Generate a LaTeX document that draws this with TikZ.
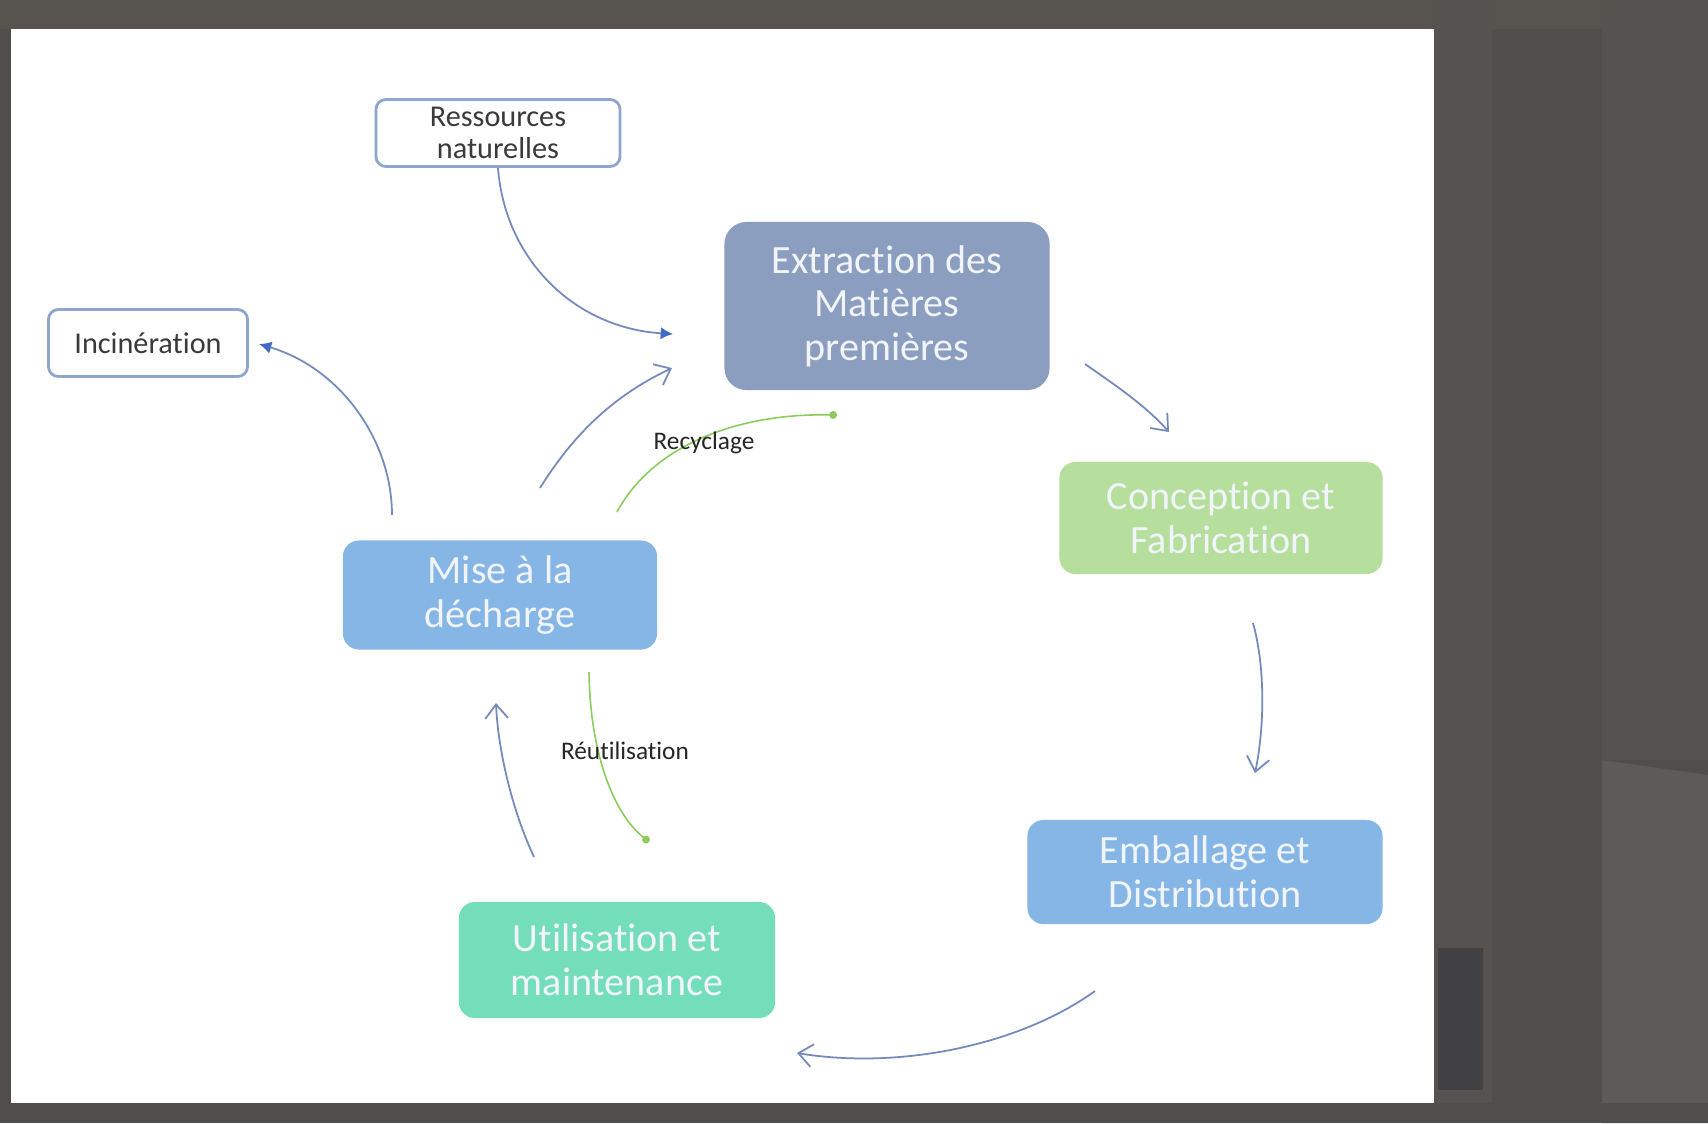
\documentclass[tikz,border=0pt]{standalone}
\usepackage{fontspec}
\setmainfont{Carlito}[Ligatures=NoCommon]
\usetikzlibrary{arrows.meta}
\definecolor{bgc}{HTML}{4F4E4D}
\definecolor{bgtop}{HTML}{57534F}
\definecolor{bgpanel}{HTML}{56524F}
\definecolor{bgpanel2}{HTML}{5D5B59}
\definecolor{bgdark}{HTML}{414143}
\definecolor{extrc}{HTML}{8B9EC0}
\definecolor{concc}{HTML}{B6DE9C}
\definecolor{bluec}{HTML}{86B6E6}
\definecolor{utilc}{HTML}{74DDBA}
\definecolor{boxtext}{HTML}{F1F4F8}
\definecolor{wborder}{HTML}{8FA6CC}
\definecolor{darktext}{HTML}{3A3A3A}
\definecolor{flowc}{HTML}{7489BC}
\definecolor{headc}{HTML}{3F6BC4}
\definecolor{greenc}{HTML}{8CCB5E}
\begin{document}
\begin{tikzpicture}[x=0.01cm,y=-0.01cm,
  box/.style={rounded corners=0.16cm, inner sep=0pt, align=center, text=boxtext,
    font=\fontsize{11.4}{12.4}\selectfont},
  wbox/.style={draw=wborder, line width=0.8pt, fill=white, rounded corners=0.1cm,
    inner sep=0pt, align=center, text=darktext, font=\fontsize{8.6}{9.3}\selectfont},
  flowo/.style={draw=flowc, line width=0.5pt, -{Straight Barb[length=4pt,width=6.5pt]}},
  flowf/.style={draw=flowc, line width=0.5pt, -{Latex[length=3.5pt,width=3.5pt,color=headc]}},
  greenflow/.style={draw=greenc, line width=0.45pt, -{Circle[length=2.2pt,color=greenc]}},
  lbl/.style={text=black!85, inner sep=0pt, font=\fontsize{7.2}{8}\selectfont}]
\useasboundingbox (0,0) rectangle (1708,1123);
% photographed background
\fill[bgc] (0,0) rectangle (1708,1123);
\fill[bgtop] (0,0) rectangle (1708,29);
\fill[bgpanel] (1434,0) rectangle (1492,1123);
\fill[bgpanel] (1602,0) rectangle (1708,760);
\fill[bgpanel2] (1602,760) -- (1708,775) -- (1708,1123) -- (1602,1123) -- cycle;
\fill[bgdark] (1438,948) rectangle (1483,1090);
\fill[bgc] (1434,1103) rectangle (1708,1123);
% slide
\fill[white] (11,29) rectangle (1434,1103);

% nodes
\node[wbox, minimum width=2.44cm, minimum height=0.67cm] (ress) at (498,133) {Ressources\\naturelles};
\node[box, fill=extrc, minimum width=3.25cm, minimum height=1.68cm, rounded corners=0.22cm] (extr) at (887,306) {Extraction des\\Matières\\premières};
\node[wbox, minimum width=1.99cm, minimum height=0.67cm] (inci) at (148,343) {Incinération};
\node[box, fill=concc, minimum width=3.23cm, minimum height=1.12cm] (conc) at (1221,518) {Conception et\\Fabrication};
\node[box, fill=bluec, minimum width=3.14cm, minimum height=1.09cm] (mise) at (500,595) {Mise à la\\décharge};
\node[box, fill=bluec, minimum width=3.55cm, minimum height=1.04cm] (emba) at (1205,872) {Emballage et\\Distribution};
\node[box, fill=utilc, minimum width=3.16cm, minimum height=1.16cm] (util) at (617,960) {Utilisation et\\maintenance};

% free ends of the connectors
\coordinate (a1e) at (673,334);
\coordinate (a2s) at (1085,364);
\coordinate (a2e) at (1169,432);
\coordinate (a3s) at (1253,623);
\coordinate (a3e) at (1255,773);
\coordinate (a4s) at (1095,991);
\coordinate (a4e) at (797,1053);
\coordinate (a5s) at (534,857);
\coordinate (a5e) at (496,703);
\coordinate (a6s) at (392,515);
\coordinate (a6e) at (259,344);
\coordinate (a7s) at (540,488);
\coordinate (a7e) at (672,368);
\coordinate (r1s) at (617,512);
\coordinate (r1e) at (837,415);
\coordinate (r2s) at (589,672);
\coordinate (r2e) at (649,842);

% connectors
\draw[flowf] (ress.south) .. controls (505,260) and (575,328) .. (a1e);
\draw[flowo] (a2s) .. controls (1115,385) and (1145,405) .. (a2e);
\draw[flowo] (a3s) .. controls (1266,670) and (1264,730) .. (a3e);
\draw[flowo] (a4s) .. controls (1020,1045) and (900,1070) .. (a4e);
\draw[flowo] (a5s) .. controls (512,810) and (498,750) .. (a5e);
\draw[flowf] (a6s) .. controls (392,440) and (340,368) .. (a6e);
\draw[flowo] (a7s) .. controls (575,432) and (615,395) .. (a7e);
\draw[greenflow] (r1s) .. controls (650,450) and (730,413) .. (r1e);
\draw[greenflow] (r2s) .. controls (590,750) and (612,812) .. (r2e);

% labels
\node[lbl] (recy) at (704,443) {Recyclage};
\node[lbl] (reut) at (625,751) {Réutilisation};
\end{tikzpicture}
\end{document}
